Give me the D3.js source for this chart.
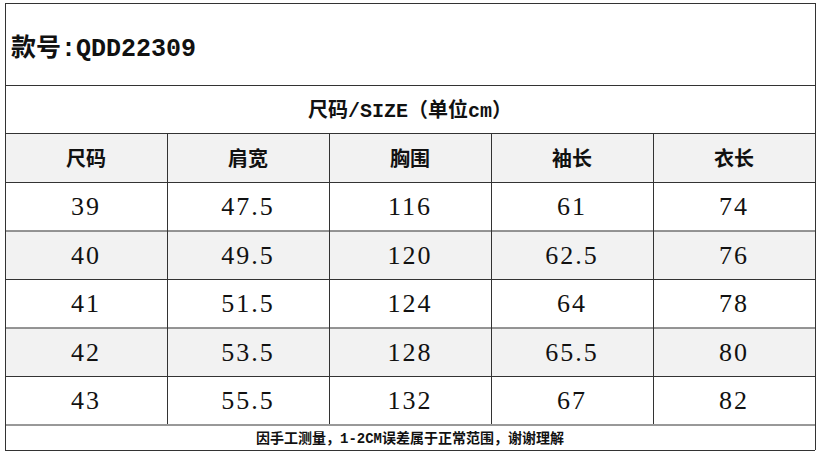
<!DOCTYPE html><html><head><meta charset="utf-8"><script src="https://cdn.jsdelivr.net/npm/d3@7"></script>
<style>body{margin:0;background:#fff}</style></head><body><svg id="c" width="822" height="456"></svg>
<script>
const title = "款号:QDD22309";
const subtitle = "尺码/SIZE（单位cm）";
const headers = ["尺码","肩宽","胸围","袖长","衣长"];
const sizes = ["39","40","41","42","43"];
const shoulder = ["47.5","49.5","51.5","53.5","55.5"];
const chest = ["116","120","124","128","132"];
const sleeve = ["61","62.5","64","65.5","67"];
const length = ["74","76","78","80","82"];
const note = "因手工测量，1-2CM误差属于正常范围，谢谢理解";

const svg = d3.select("#c");
const L=5,R=815;
const x = d3.scaleBand().domain(headers).range([L,R]);
const y = d3.scaleBand().domain(sizes).range([182,424.5]);
const cols=[sizes,shoulder,chest,sleeve,length];
const cjk="'Noto Sans CJK SC',sans-serif";
const mono="'Liberation Mono','Noto Sans CJK SC',monospace";
svg.append("rect").attr("x",L).attr("y",133).attr("width",R-L).attr("height",49).attr("fill","#f2f2f2");
sizes.forEach((s,i)=>{ if(i%2==1) svg.append("rect").attr("x",L).attr("y",y(s)).attr("width",R-L).attr("height",y.bandwidth()).attr("fill","#f2f2f2");});
const g=svg.append("g").attr("stroke","#333").attr("stroke-width",1);
[3,85,133,182,...sizes.map(s=>y(s)+y.bandwidth()),450].forEach(v=>g.append("line").attr("x1",L).attr("x2",R).attr("y1",v+0.5).attr("y2",v+0.5));
g.append("line").attr("x1",L+0.5).attr("x2",L+0.5).attr("y1",3).attr("y2",450);
g.append("line").attr("x1",R+0.5).attr("x2",R+0.5).attr("y1",3).attr("y2",450);
headers.slice(1).forEach(h=>g.append("line").attr("x1",x(h)+0.5).attr("x2",x(h)+0.5).attr("y1",133).attr("y2",424));
svg.append("text").attr("x",11).attr("y",56).attr("font-family",mono).attr("font-weight","bold").attr("font-size",25).attr("fill","#111").text(title);
svg.append("text").attr("x",(L+R)/2).attr("y",117).attr("text-anchor","middle").attr("font-family",mono).attr("font-weight","bold").attr("font-size",20).attr("fill","#111").text(subtitle);
headers.forEach(h=>svg.append("text").attr("x",x(h)+x.bandwidth()/2).attr("y",166).attr("text-anchor","middle").attr("font-family",cjk).attr("font-weight","bold").attr("font-size",20).attr("fill","#111").text(h));
cols.forEach((col,ci)=>col.forEach((v,ri)=>svg.append("text").attr("x",x(headers[ci])+x.bandwidth()/2).attr("y",y(sizes[ri])+y.bandwidth()/2+9).attr("text-anchor","middle").attr("font-family","'Liberation Serif',serif").attr("font-size",26).attr("letter-spacing",2).attr("fill","#111").text(v)));
svg.append("text").attr("x",(L+R)/2).attr("y",443).attr("text-anchor","middle").attr("font-family",mono).attr("font-weight","bold").attr("font-size",14).attr("fill","#111").text(note);
</script></body></html>
